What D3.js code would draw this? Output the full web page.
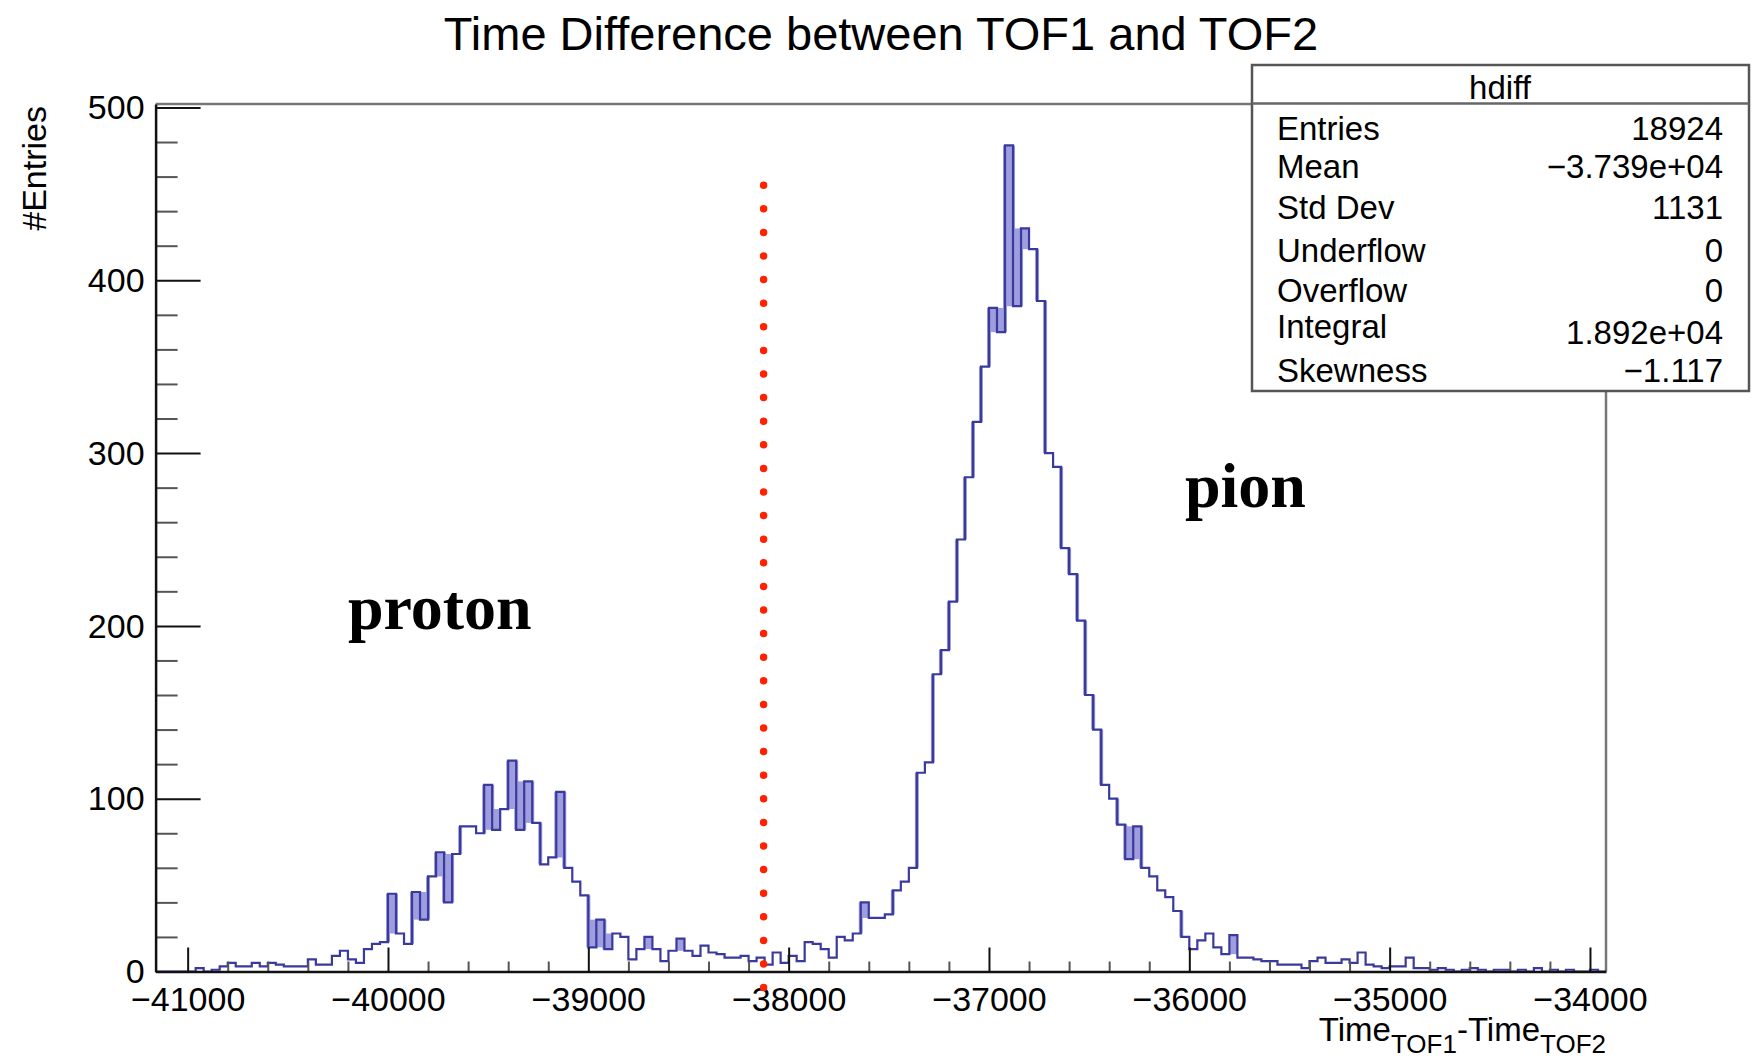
<!DOCTYPE html>
<html>
<head>
<meta charset="utf-8">
<script src="https://cdn.jsdelivr.net/npm/d3@7"></script>
<style>
  html, body { margin: 0; padding: 0; background: #fff; }
  svg { display: block; font-family: "Liberation Sans", Arial, Helvetica, sans-serif; }
</style>
</head>
<body>
<svg id="canvas" width="1753" height="1059"></svg>
<script>
// Histogram binning (hdiff)
let binLo = -41160;
let binWidth = 40;
// counts per bin
let counts = [
    0, 0, 0, 0, 0, 2, 0, 1, 3, 5,
    3, 3, 5, 3, 5, 4, 3, 3, 3, 7,
    4, 4, 9, 12, 7, 5, 13, 16, 17, 45,
    22, 16, 46, 30, 55, 69, 40, 68, 84, 84,
    80, 108, 82, 94, 122, 82, 110, 86, 62, 66,
    104, 60, 52, 44, 14, 30, 13, 22, 20, 7,
    13, 20, 13, 6, 12, 19, 12, 9, 15, 11,
    10, 8, 8, 9, 6, 8, 4, 11, 5, 9,
    6, 17, 16, 13, 8, 20, 18, 22, 40, 31,
    31, 33, 47, 52, 60, 115, 121, 172, 186, 214,
    250, 286, 318, 350, 384, 370, 478, 385, 430, 418,
    388, 300, 292, 245, 230, 203, 160, 140, 108, 100,
    85, 65, 84, 60, 55, 47, 43, 35, 20, 13,
    18, 22, 14, 10, 21, 8, 8, 7, 6, 6,
    4, 4, 4, 2, 6, 8, 5, 5, 7, 5,
    11, 4, 3, 2, 3, 3, 8, 2, 2, 1,
    2, 1, 0, 1, 2, 1, 0, 1, 1, 0,
    1, 0, 2, 0, 1, 0, 1, 0, 0, 1,
    0
];

// axes
let xMajor = [-41000, -40000, -39000, -38000, -37000, -36000, -35000, -34000];
let yMajor = [0, 100, 200, 300, 400, 500];
let yMax = 502;

// selection cut (red dotted line)
let cutX = -38125;
let cutRange = [455, -16];

// annotations
let labelText = ['proton', 'pion'];
let labelX = [-40200, -36022];
let labelY = [198, 269];

// stats box
let statNames = ['Entries', 'Mean', 'Std Dev', 'Underflow', 'Overflow', 'Integral', 'Skewness'];
let statValues = ['18924', '\u22123.739e+04', '1131', '0', '0', '1.892e+04', '\u22121.117'];

let binHi = binLo + counts.length * binWidth;

let svg = d3.select('#canvas');

let x = d3.scaleLinear().domain([binLo, binHi]).range([155.6, 1606]);
let y = d3.scaleLinear().domain([0, yMax]).range([971.5, 104]);

// Title
svg.append('text')
    .attr('x', 881)
    .attr('y', 50)
    .attr('text-anchor', 'middle')
    .style('font-size', '47px')
    .text('Time Difference between TOF1 and TOF2');

// frame top / right
svg.append('path')
    .attr('d', `M${x.range()[0]},${y.range()[1]}H${x.range()[1]}V${y.range()[0]}`)
    .attr('fill', 'none')
    .attr('stroke', '#777')
    .attr('stroke-width', 2.5);

// spike shading (narrow ups and downs look filled in the original)
let shades = [];
counts.forEach((v, i) => {
    let prev = i > 0 ? counts[i - 1] : 0;
    let next = i < counts.length - 1 ? counts[i + 1] : 0;
    let hiN = Math.max(prev, next);
    let loN = Math.min(prev, next);
    if (v > hiN + 6) shades.push({ i: i, top: v, bot: hiN });
    else if (v < loN - 6) shades.push({ i: i, top: loN, bot: v });
});

let shadeG = svg.append('g').attr('fill', '#8c8cda').attr('opacity', 0.85);

shadeG.selectAll('rect.spike')
    .data(shades)
    .enter()
    .append('rect')
    .attr('class', 'spike')
    .attr('x', (d) => x(binLo + d.i * binWidth))
    .attr('width', (d) => x(binLo + (d.i + 1) * binWidth) - x(binLo + d.i * binWidth))
    .attr('y', (d) => y(d.top))
    .attr('height', (d) => y(d.bot) - y(d.top));

// large vertical steps also look thick in the original
let jumps = [];
counts.forEach((v, i) => {
    if (i === 0) return;
    let p = counts[i - 1];
    if (Math.abs(v - p) >= 14) jumps.push({ i: i, top: Math.max(v, p), bot: Math.min(v, p) });
});

shadeG.selectAll('rect.jump')
    .data(jumps)
    .enter()
    .append('rect')
    .attr('class', 'jump')
    .attr('x', (d) => x(binLo + d.i * binWidth) - 2)
    .attr('width', 4)
    .attr('y', (d) => y(d.top))
    .attr('height', (d) => y(d.bot) - y(d.top));

// histogram outline
let steps = counts.map((v, i) => [binLo + i * binWidth, v]);
steps.push([binHi, counts[counts.length - 1]]);

let line = d3.line()
    .x((d) => x(d[0]))
    .y((d) => y(d[1]))
    .curve(d3.curveStepAfter);

svg.append('path')
    .datum(steps)
    .attr('d', line)
    .attr('fill', 'none')
    .attr('stroke', '#3a3a9c')
    .attr('stroke-width', 2.2);

// minor ticks
let xMinor = d3.range(-41000, -33999, 200).filter((v) => v % 1000 !== 0);
let yMinor = d3.range(0, 501, 20).filter((v) => v % 100 !== 0);

svg.append('g')
    .attr('transform', `translate(0,${y(0)})`)
    .call(d3.axisBottom(x).tickValues(xMinor).tickSize(-10).tickSizeOuter(0).tickFormat(''))
    .call((g) => g.select('.domain').remove())
    .selectAll('line').attr('stroke', '#555').attr('stroke-width', 2);

svg.append('g')
    .attr('transform', `translate(${x.range()[0]},0)`)
    .call(d3.axisLeft(y).tickValues(yMinor).tickSize(-22).tickSizeOuter(0).tickFormat(''))
    .call((g) => g.select('.domain').remove())
    .selectAll('line').attr('stroke', '#555').attr('stroke-width', 2);

// major axes
let xAxis = svg.append('g')
    .attr('transform', `translate(0,${y(0)})`)
    .call(d3.axisBottom(x).tickValues(xMajor).tickSize(-24).tickSizeOuter(0).tickPadding(15).tickFormat(d3.format('d')));

let yAxis = svg.append('g')
    .attr('transform', `translate(${x.range()[0]},0)`)
    .call(d3.axisLeft(y).tickValues(yMajor).tickSize(-45).tickSizeOuter(0).tickPadding(11).tickFormat(d3.format('d')));

[xAxis, yAxis].forEach((g) => {
    g.select('.domain').attr('stroke', '#111').attr('stroke-width', 2.5);
    g.selectAll('line').attr('stroke', '#111').attr('stroke-width', 2);
    g.selectAll('text')
        .attr('fill', '#000')
        .style('font-family', '"Liberation Sans", Arial, sans-serif')
        .style('font-size', '34px');
});
yAxis.selectAll('text').attr('dy', '0.33em');

// red dotted cut line
svg.append('path')
    .datum(cutRange.map((v) => [cutX, v]))
    .attr('d', d3.line().x((d) => x(d[0])).y((d) => y(d[1])))
    .attr('stroke', '#ff2200')
    .attr('stroke-width', 7.5)
    .attr('stroke-linecap', 'round')
    .attr('stroke-dasharray', '0 23.6');

// axis titles
let xt = svg.append('text')
    .attr('x', x.range()[1])
    .attr('y', 1041)
    .attr('text-anchor', 'end')
    .style('font-size', '33px');
xt.append('tspan').text('Time');
xt.append('tspan').attr('dy', 12).style('font-size', '26px').text('TOF1');
xt.append('tspan').attr('dy', -12).text('-Time');
xt.append('tspan').attr('dy', 12).style('font-size', '26px').text('TOF2');

svg.append('text')
    .attr('transform', 'translate(46,106) rotate(-90)')
    .attr('text-anchor', 'end')
    .style('font-size', '34px')
    .text('#Entries');

// particle labels
svg.append('g')
    .selectAll('text')
    .data(labelText)
    .enter()
    .append('text')
    .attr('x', (d, i) => x(labelX[i]))
    .attr('y', (d, i) => y(labelY[i]))
    .style('font-family', '"Liberation Serif", "Times New Roman", serif')
    .style('font-weight', 'bold')
    .style('font-size', '64px')
    .text((d) => d);

// stats box
let box = svg.append('g');
box.append('rect')
    .attr('x', 1252)
    .attr('y', 65)
    .attr('width', 497)
    .attr('height', 326)
    .attr('fill', '#fff')
    .attr('stroke', '#555')
    .attr('stroke-width', 2.5);
box.append('line')
    .attr('x1', 1252).attr('x2', 1749)
    .attr('y1', 103.5).attr('y2', 103.5)
    .attr('stroke', '#666')
    .attr('stroke-width', 2.5);
box.append('text')
    .attr('x', 1500)
    .attr('y', 99)
    .attr('text-anchor', 'middle')
    .style('font-size', '33px')
    .text('hdiff');

let rowBase = [140, 178, 219, 262, 302, 338, 382];
let valBase = [140, 178, 219, 262, 302, 344, 382];
box.selectAll('.sname')
    .data(statNames)
    .enter()
    .append('text')
    .attr('class', 'sname')
    .attr('x', 1277)
    .attr('y', (d, i) => rowBase[i])
    .style('font-size', '33px')
    .text((d) => d);
box.selectAll('.sval')
    .data(statValues)
    .enter()
    .append('text')
    .attr('class', 'sval')
    .attr('x', 1723)
    .attr('y', (d, i) => valBase[i])
    .attr('text-anchor', 'end')
    .style('font-size', '33px')
    .text((d) => d);
</script>
</body>
</html>
